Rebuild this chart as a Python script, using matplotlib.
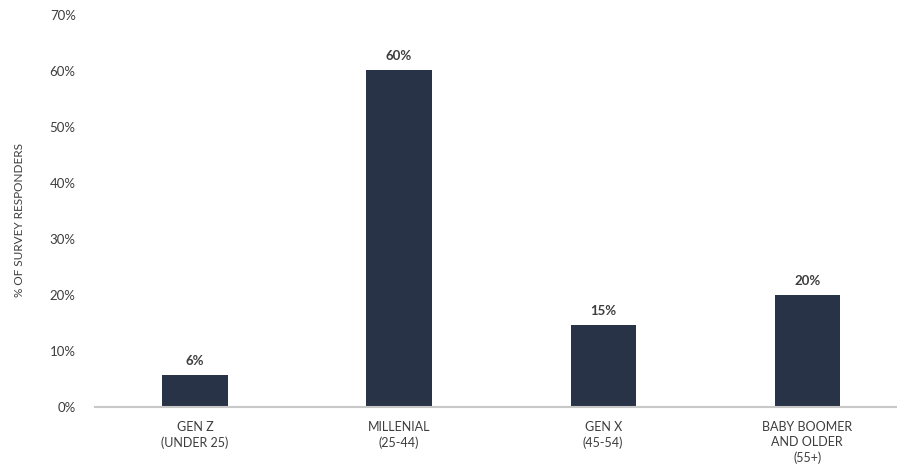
import numpy as np
import matplotlib
matplotlib.use("Agg")
import matplotlib.pyplot as plt

categories = ["GEN Z\n(UNDER 25)", "MILLENIAL\n(25-44)", "GEN X\n(45-54)", "BABY BOOMER\nAND OLDER\n(55+)"]
values = [5.7, 60.2, 14.6, 20.0]
value_labels = ["6%", "60%", "15%", "20%"]
yticks = [0, 10, 20, 30, 40, 50, 60, 70]

plt.rcParams['font.family'] = ['Lato', 'DejaVu Sans']

fig = plt.figure(figsize=(8.97, 4.66), dpi=100)
ax = fig.add_axes([0.106, 0.1266, 0.894, 0.8414])

x = np.arange(len(categories))
bars = ax.bar(x, values, width=0.32, color='#283347')

for b, lab in zip(bars, value_labels):
    ax.text(b.get_x() + b.get_width() / 2, b.get_height() + 1.4, lab,
            ha='center', va='bottom', fontsize=9.5, fontweight='bold', color='#3d3d3d')

ax.set_xlim(-0.49, 3.44)
ax.set_ylim(0, 70)
ax.set_yticks(yticks)
ax.set_yticklabels(["%d%%" % t for t in yticks], fontsize=9.5, color='#3d3d3d')
ax.set_xticks(x)
ax.set_xticklabels(categories, fontsize=9, color='#3d3d3d', linespacing=1.3)
ax.tick_params(axis='both', length=0)
ax.tick_params(axis='y', pad=14)
ax.tick_params(axis='x', pad=10)

for s in ['top', 'right', 'left']:
    ax.spines[s].set_visible(False)
ax.spines['bottom'].set_color('#c8c8c8')
ax.spines['bottom'].set_linewidth(1.5)

fig.text(0.022, 0.528, "% OF SURVEY RESPONDERS", rotation=90, ha='center', va='center',
         fontsize=8.5, color='#3d3d3d')

fig.savefig("out.png", dpi=100)
